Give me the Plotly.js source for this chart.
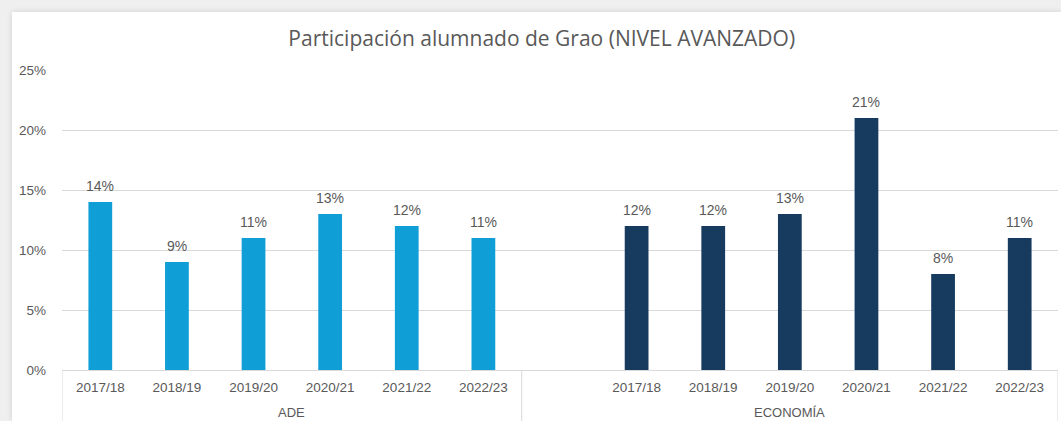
<!DOCTYPE html>
<html><head><meta charset="utf-8">
<script src="https://cdn.plot.ly/plotly-3.0.1.min.js"></script>
<style>
html,body{margin:0;padding:0;background:#efefef;width:1061px;height:421px;overflow:hidden;}
#chart{position:absolute;left:12px;top:12px;width:1049px;height:409px;background:#fff;box-shadow:0 0 6px rgba(0,0,0,0.12);}
</style></head><body><div id="chart"></div>
<script>
const years = ['2017/18','2018/19','2019/20','2020/21','2021/22','2022/23'];
const groups = ['ADE','ECONOMÍA'];
const adeValues = [0.14,0.09,0.11,0.13,0.12,0.11];
const economiaValues = [0.12,0.12,0.13,0.21,0.08,0.11];
const yTicks = [0,0.05,0.10,0.15,0.20,0.25];
const colors = ['#0F9ED5','#173A5F'];

// slot layout: ADE occupies slots 0-5, ECONOMÍA has one empty leading slot then 6 slots
const groupStart = [0, 6];
const groupLead = [0, 1];
const groupSlots = [6, 7];
const seriesValues = [adeValues, economiaValues];
const xPos = groups.map((g, gi) => years.map((_, i) => groupStart[gi] + groupLead[gi] + i));

const traces = groups.map((g, gi) => ({
  type: 'bar',
  name: g,
  x: xPos[gi],
  y: seriesValues[gi],
  width: 0.31,
  marker: {color: colors[gi]},
  hoverinfo: 'x+y'
}));

const labelFont = {family: 'Liberation Sans, Arial, sans-serif', size: 14, color: '#595959'};
const annotations = [];
groups.forEach((g, gi) => seriesValues[gi].forEach((v, i) => {
  annotations.push({
    text: Math.round(v * 100) + '%', xref: 'x', yref: 'y',
    x: xPos[gi][i], y: v, yanchor: 'bottom', yshift: 6, showarrow: false,
    font: labelFont
  });
}));

const tickvals = [], ticktext = [];
groups.forEach((g, gi) => years.forEach((y, i) => {
  tickvals.push(xPos[gi][i]);
  ticktext.push(y);
}));

const dividers = [groupStart[0] - 0.5, groupStart[1] - 0.5, groupStart[1] + groupSlots[1] - 0.5];
const shapes = dividers.map(d => ({
  type: 'line', xref: 'x', yref: 'paper', x0: d, x1: d, y0: 0, y1: -0.2,
  line: {color: '#d9d9d9', width: 1}
}));

groups.forEach((g, gi) => annotations.push({
  text: g, xref: 'x', yref: 'paper',
  x: groupStart[gi] + (groupSlots[gi] - 1) / 2,
  y: -0.143, yanchor: 'middle', showarrow: false,
  font: {family: 'Liberation Sans, Arial, sans-serif', size: 13, color: '#595959'}
}));

const layout = {
  width: 1049, height: 409,
  margin: {l: 50, r: 3, t: 58, b: 51},
  paper_bgcolor: '#ffffff', plot_bgcolor: '#ffffff',
  showlegend: false,
  barmode: 'overlay',
  title: {
    text: 'Participación alumnado de Grao (NIVEL AVANZADO)',
    x: 0.505, xanchor: 'center', y: 0.936, yanchor: 'middle',
    font: {family: 'Open Sans, sans-serif', size: 21, color: '#595959'}
  },
  xaxis: {
    range: [-0.5, 12.5], tickvals: tickvals, ticktext: ticktext,
    showgrid: false, zeroline: false, showline: true, linecolor: '#d9d9d9', linewidth: 1,
    ticks: '', ticklabelstandoff: 5,
    tickfont: {family: 'Liberation Sans, Arial, sans-serif', size: 13.5, color: '#595959'},
    automargin: false
  },
  yaxis: {
    range: [0, 0.25], tickvals: yTicks, tickformat: '.0%',
    showgrid: true, gridcolor: '#d9d9d9', gridwidth: 1, zeroline: false, showline: false,
    ticks: '', ticklabelstandoff: 15,
    tickfont: {family: 'Liberation Sans, Arial, sans-serif', size: 13.5, color: '#595959'},
    automargin: false
  },
  shapes: shapes,
  annotations: annotations
};

Plotly.newPlot('chart', traces, layout, {displayModeBar: false, staticPlot: true});
</script></body></html>
